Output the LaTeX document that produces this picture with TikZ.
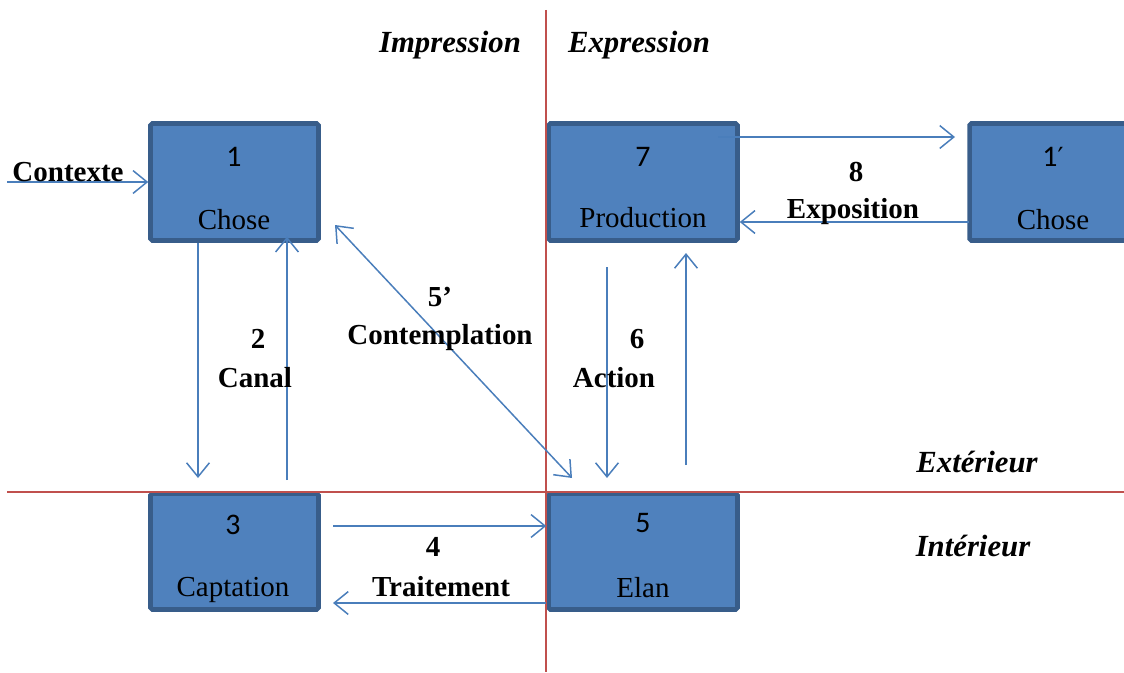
\documentclass[tikz,border=0pt]{standalone}
\usepackage{fontspec}
\setmainfont{Liberation Serif}
\newfontfamily\numfont{Carlito}
\newfontfamily\primefont{DejaVu Sans}
\usetikzlibrary{arrows.meta,positioning,calc}
\definecolor{boxfill}{RGB}{79,129,189}
\definecolor{boxedge}{RGB}{56,93,138}
\definecolor{flow}{RGB}{74,126,187}
\definecolor{axis}{RGB}{192,80,77}

\begin{document}
\begin{tikzpicture}[x=0.02cm, y=-0.02cm,
  box/.style={draw=boxedge, line width=2.6pt, fill=boxfill, inner sep=0pt, rounded corners=1pt, minimum height=2.34cm},
  num/.style={font=\numfont\fontsize{17}{20}\selectfont},
  lbl/.style={font=\fontsize{16.5}{20}\selectfont},
  tag/.style={font=\fontsize{16.5}{20}\selectfont\bfseries},
  side/.style={font=\fontsize{17.5}{21}\selectfont\bfseries\itshape},
  link/.style={flow, line width=0.85pt, -{Straight Barb[length=8pt,width=13pt]}},
  dlink/.style={link, {Straight Barb[length=8pt,width=13pt]}-{Straight Barb[length=8pt,width=13pt]}}]
\useasboundingbox (0,0) rectangle (1124,672);
% ---- boxes
\node[box, minimum width=3.36cm] (b1) at (234.5,182) {};
\node[box, minimum width=3.78cm] (b7) at (643,182) {};
\node[box, minimum width=3.36cm] (b1p) at (1053.5,182) {};
\node[box, minimum width=3.36cm, minimum height=2.32cm] (b3) at (234.5,551.5) {};
\node[box, minimum width=3.78cm, minimum height=2.32cm] (b5) at (643,551.5) {};
\node[num] (n1) at (234,157) {1};
\node[lbl] (l1) at (234,220) {Chose};
\node[num] (n7) at (643,157) {7};
\node[lbl] (l7) at (643,218) {Production};
\node[num] (n1p) at (1053,157) {1{\primefont\fontsize{15}{18}\selectfont′}};
\node[lbl] (l1p) at (1053,220) {Chose};
\node[num] (n3) at (233,525) {3};
\node[lbl] (l3) at (233,590) {Captation};
\node[num] (n5) at (643,523) {5};
\node[lbl] (l5) at (643,588) {Elan};
% ---- axes
\coordinate (vtop) at (546,10);
\coordinate (vbot) at (546,672);
\coordinate (hleft) at (7,492);
\coordinate (hright) at (1124,492);
\draw[axis, line width=0.85pt] (vtop) -- (vbot);
\draw[axis, line width=0.85pt] (hleft) -- (hright);
\node[side] (imp) at (450,45) {Impression};
\node[side] (exp) at (639,45) {Expression};
\node[side] (ext) at (977,462) {Extérieur};
\node[side] (int) at (973,546) {Intérieur};
% ---- flows
\coordinate (ctx) at (7,182);
\draw[link] (ctx) -- (b1.west);
\node[tag] (tctx) at (68,172) {Contexte};
\coordinate (c2d) at (198,478);
\coordinate (c2u) at (287,480);
\draw[link] (b1.south -| c2d) -- (c2d);
\draw[link] (c2u) -- ($(c2u |- b1.south)+(0,-6)$);
\node[tag] (t2) at (258,339) {2};
\node[tag] (t2b) at (255,378) {Canal};
\coordinate (c5a) at (335,225);
\coordinate (c5b) at (572,478);
\draw[dlink] (c5a) -- (c5b);
\node[tag] (t5) at (440,297) {5'};
\node[tag] (t5b) at (440,338) {Contemplation};
\coordinate (c6a) at (607,267);
\coordinate (c6b) at (607,478);
\coordinate (c6c) at (686,465);
\coordinate (c6d) at (686,253);
\draw[link] (c6a) -- (c6b);
\draw[link] (c6c) -- (c6d);
\node[tag] (t6) at (637,339) {6};
\node[tag] (t6b) at (614,378) {Action};
\coordinate (c8a) at (718,137);
\coordinate (c8b) at (955,137);
\coordinate (c8c) at (969,222);
\draw[link] (c8a) -- (c8b);
\draw[link] (c8c) -- (b7.east |- c8c);
\node[tag] (t8) at (856,172) {8};
\node[tag] (t8b) at (853,212) {Exposition};
\coordinate (c4a) at (333,526);
\coordinate (c4b) at (333,603);
\draw[link] (c4a) -- (b5.west |- c4a);
\draw[link] (b5.west |- c4b) -- (c4b);
\node[tag] (t4) at (433,547) {4};
\node[tag] (t4b) at (441,587) {Traitement};
\end{tikzpicture}
\end{document}
